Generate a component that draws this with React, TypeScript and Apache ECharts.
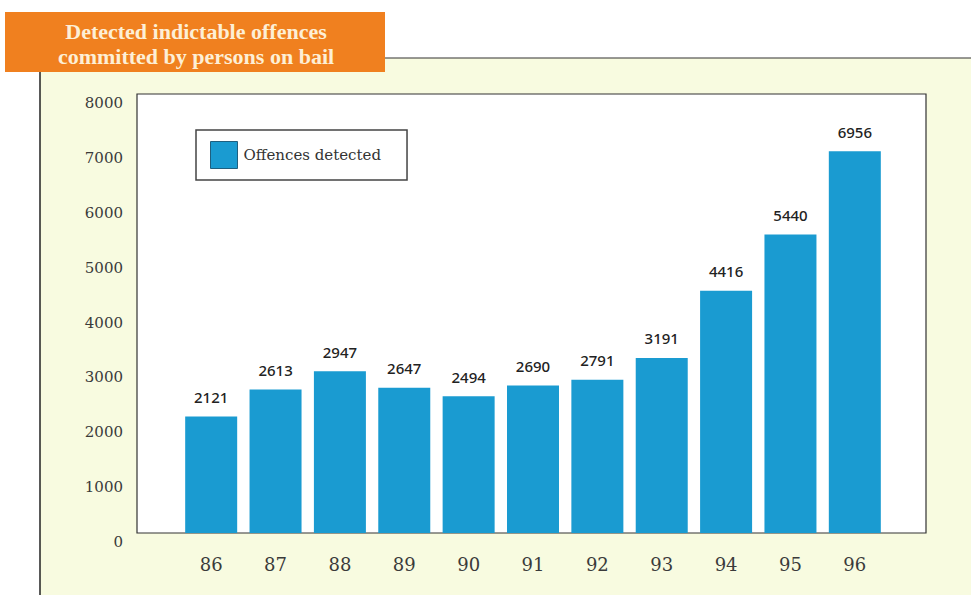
import React, { useEffect, useRef } from "react";
import * as echarts from "echarts";

const years = ["86", "87", "88", "89", "90", "91", "92", "93", "94", "95", "96"];
const offences = [2121, 2613, 2947, 2647, 2494, 2690, 2791, 3191, 4416, 5440, 6956];
const seriesName = "Offences detected";
const titleLines = ["Detected indictable offences", "committed by persons on bail"];

export default function App() {
  const ref = useRef<HTMLDivElement>(null);
  useEffect(() => {
    if (!ref.current) return;
    const chart = echarts.init(ref.current, null, { renderer: "svg" });
    chart.setOption({
      animation: false,
      backgroundColor: "#ffffff",
      grid: { left: 179, right: 84, top: 94, bottom: 62, containLabel: false },
      legend: {
        data: [seriesName],
        left: 196,
        top: 130,
        orient: "vertical",
        icon: "rect",
        itemWidth: 27,
        itemHeight: 27,
        itemGap: 0,
        padding: [11, 26, 11, 14],
        backgroundColor: "#ffffff",
        borderColor: "#444444",
        borderWidth: 1.5,
        textStyle: { fontFamily: "DejaVu Serif", fontSize: 15, color: "#333333", padding: [0, 0, 0, 1] },
        itemStyle: { borderColor: "#1f5f7f", borderWidth: 1 },
        z: 5,
      },
      xAxis: {
        type: "category",
        data: years,
        axisLine: { show: false },
        axisTick: { show: false },
        axisLabel: { margin: 22, fontFamily: "DejaVu Serif", fontSize: 18, color: "#3a3a3a" },
        splitLine: { show: false },
      },
      yAxis: {
        type: "value",
        min: 0,
        max: 8000,
        interval: 1000,
        axisLine: { show: false },
        axisTick: { show: false },
        splitLine: { show: false },
        axisLabel: {
          margin: 56,
          fontFamily: "DejaVu Serif",
          fontSize: 15,
          color: "#3a3a3a",
          verticalAlign: "top",
          lineHeight: 18,
          formatter: (v: number) => String(v),
        },
      },
      graphic: [
        { type: "rect", z: -10, shape: { x: 40, y: 58, width: 940, height: 545 }, style: { fill: "#f8fbe0" } },
        { type: "line", z: -9, shape: { x1: 40, y1: 70, x2: 40, y2: 595 }, style: { stroke: "#222222", lineWidth: 1.5 } },
        { type: "line", z: -9, shape: { x1: 385, y1: 58, x2: 971, y2: 58 }, style: { stroke: "#333333", lineWidth: 1.2 } },
        { type: "rect", z: -8, shape: { x: 137, y: 94, width: 789, height: 439 }, style: { fill: "#ffffff", stroke: "#333333", lineWidth: 1.2 } },
        { type: "rect", z: 10, shape: { x: 5, y: 12, width: 380, height: 60 }, style: { fill: "#f0801f" } },
        {
          type: "text",
          z: 11,
          x: 196,
          y: 44,
          style: {
            text: titleLines.join("\n"),
            fill: "#fdefd6",
            font: "bold 22px 'Liberation Serif'",
            lineHeight: 25,
            align: "center",
            verticalAlign: "middle",
          },
        },
      ],
      series: [
        {
          name: seriesName,
          type: "bar",
          data: offences,
          barWidth: 52,
          itemStyle: { color: "#1a9bd1" },
          label: {
            show: true,
            position: "top",
            distance: 12,
            fontFamily: "Noto Sans",
            fontSize: 15,
            fontWeight: 500,
            color: "#222222",
          },
        },
      ],
    });
    return () => chart.dispose();
  }, []);
  return <div ref={ref} style={{ position: "absolute", left: 0, top: 0, width: 971, height: 595 }} />;
}
